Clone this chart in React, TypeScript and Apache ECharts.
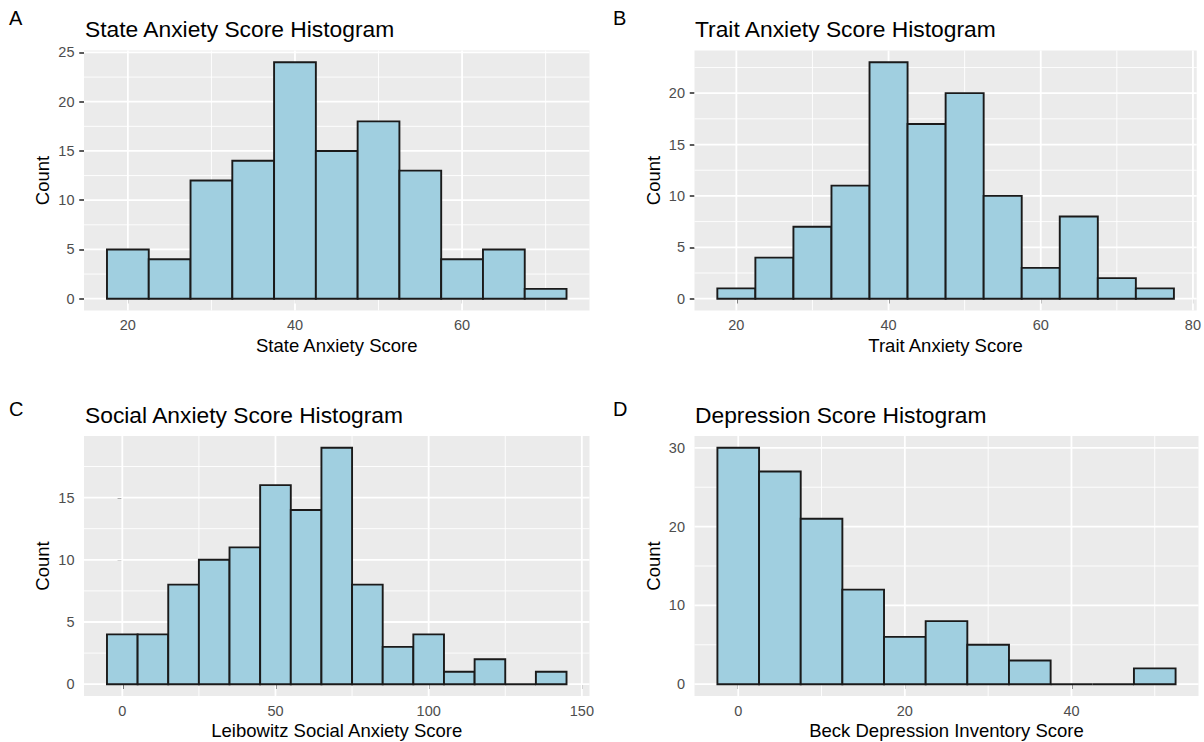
import React, { useEffect, useRef } from "react";
import * as echarts from "echarts";

// ---- data (counts per bin) ----
const stateCounts = [5, 4, 12, 14, 24, 15, 18, 13, 4, 5, 1];
const traitCounts = [1, 4, 7, 11, 23, 17, 20, 10, 3, 8, 2, 1];
const socialCounts = [4, 4, 8, 10, 11, 16, 14, 19, 8, 3, 4, 1, 2, 0, 1];
const depressionCounts = [30, 27, 21, 12, 6, 8, 5, 3, 0, 0, 2];

// bin definitions (first bin edge, bin width)
const stateBinStart = 17.5;
const stateBinWidth = 5;
const traitBinStart = 17.5;
const traitBinWidth = 5;
const socialBinStart = -5;
const socialBinWidth = 10;
const depressionBinStart = -2.5;
const depressionBinWidth = 5;

// tick labels / grid breaks
const stateXTicks = [20, 40, 60];
const stateXMinor = [30, 50, 70];
const stateYTicks = [0, 5, 10, 15, 20, 25];
const stateYMinor = [2.5, 7.5, 12.5, 17.5, 22.5];

const traitXTicks = [20, 40, 60, 80];
const traitXMinor = [30, 50, 70];
const traitYTicks = [0, 5, 10, 15, 20];
const traitYMinor = [2.5, 7.5, 12.5, 17.5, 22.5];

const socialXTicks = [0, 50, 100, 150];
const socialXMinor = [25, 75, 125];
const socialYTicks = [0, 5, 10, 15];
const socialYMinor = [2.5, 7.5, 12.5, 17.5];

const depressionXTicks = [0, 20, 40];
const depressionXMinor = [10, 30, 50];
const depressionYTicks = [0, 10, 20, 30];
const depressionYMinor = [5, 15, 25];

const panelLetters = ["A", "B", "C", "D"];
const titles = [
  "State Anxiety Score Histogram",
  "Trait Anxiety Score Histogram",
  "Social Anxiety Score Histogram",
  "Depression Score Histogram",
];
const xTitles = [
  "State Anxiety Score",
  "Trait Anxiety Score",
  "Leibowitz Social Anxiety Score",
  "Beck Depression Inventory Score",
];
const yTitle = "Count";

// ---- layout / style ----
const FONT = "'Liberation Sans', Arial, Helvetica, sans-serif";
const PANEL_BG = "#EBEBEB";
const BAR_FILL = "#A0CFE0";
const BAR_STROKE = "#1A1A1A";
const TICK_COLOR = "#4D4D4D";

const gridBoxes = [
  { left: 84, top: 50.5, width: 505.5, height: 260 },
  { left: 694.5, top: 50.5, width: 504, height: 260 },
  { left: 84, top: 436, width: 505.5, height: 260 },
  { left: 694.5, top: 436, width: 504, height: 260 },
];
const titlePos = [
  { x: 85, y: 29 },
  { x: 695, y: 29 },
  { x: 85, y: 414.5 },
  { x: 695, y: 414.5 },
];
const letterPos = [
  { x: 9, y: 17.5 },
  { x: 613, y: 17.5 },
  { x: 9, y: 409 },
  { x: 613, y: 409 },
];

type Panel = {
  counts: number[];
  start: number;
  width: number;
  xTicks: number[];
  xMinor: number[];
  yTicks: number[];
  yMinor: number[];
};

const panels: Panel[] = [
  { counts: stateCounts, start: stateBinStart, width: stateBinWidth, xTicks: stateXTicks, xMinor: stateXMinor, yTicks: stateYTicks, yMinor: stateYMinor },
  { counts: traitCounts, start: traitBinStart, width: traitBinWidth, xTicks: traitXTicks, xMinor: traitXMinor, yTicks: traitYTicks, yMinor: traitYMinor },
  { counts: socialCounts, start: socialBinStart, width: socialBinWidth, xTicks: socialXTicks, xMinor: socialXMinor, yTicks: socialYTicks, yMinor: socialYMinor },
  { counts: depressionCounts, start: depressionBinStart, width: depressionBinWidth, xTicks: depressionXTicks, xMinor: depressionXMinor, yTicks: depressionYTicks, yMinor: depressionYMinor },
];

function buildOption() {
  const grid: any[] = [];
  const xAxis: any[] = [];
  const yAxis: any[] = [];
  const series: any[] = [];
  const graphic: any[] = [];

  panels.forEach((p, i) => {
    const lo = p.start;
    const hi = p.start + p.width * p.counts.length;
    const span = hi - lo;
    const xMin = lo - 0.05 * span;
    const xMax = hi + 0.05 * span;
    const cMax = Math.max(...p.counts);
    const yMin = -0.05 * cMax;
    const yMax = cMax * 1.05;

    grid.push({
      ...gridBoxes[i],
      show: true,
      backgroundColor: PANEL_BG,
      borderWidth: 0,
      containLabel: false,
    });

    xAxis.push({
      gridIndex: i,
      type: "value",
      min: xMin,
      max: xMax,
      axisLine: { show: false },
      axisTick: {
        show: true,
        customValues: p.xTicks,
        length: 4.75,
        lineStyle: { color: "#333333", width: 1.6 },
      },
      axisLabel: {
        customValues: p.xTicks,
        margin: 7,
        color: TICK_COLOR,
        fontSize: 14.5,
        fontFamily: FONT,
        hideOverlap: false,
        formatter: (v: number) => String(v),
      },
      splitLine: { show: false },
      name: xTitles[i],
      nameLocation: "middle",
      nameGap: 25,
      nameTextStyle: { color: "#000", fontSize: 18.5, fontFamily: FONT },
    });

    yAxis.push({
      gridIndex: i,
      type: "value",
      min: yMin,
      max: yMax,
      axisLine: { show: false },
      axisTick: {
        show: true,
        customValues: p.yTicks,
        length: 4.75,
        lineStyle: { color: "#333333", width: 1.6 },
      },
      axisLabel: {
        customValues: p.yTicks,
        margin: 9.5,
        color: TICK_COLOR,
        fontSize: 14.5,
        fontFamily: FONT,
        hideOverlap: false,
        formatter: (v: number) => String(v),
      },
      splitLine: { show: false },
      name: yTitle,
      nameLocation: "middle",
      nameGap: 32,
      nameRotate: 90,
      nameTextStyle: { color: "#000", fontSize: 18.5, fontFamily: FONT },
    });

    // all grid lines of a panel drawn as one group, through the panel's scales
    series.push({
      type: "custom",
      xAxisIndex: i,
      yAxisIndex: i,
      silent: true,
      z: 1,
      encode: { x: 0, y: 1 },
      data: [[xMin, yMin]],
      renderItem: (params: any, api: any) => {
        const children: any[] = [];
        const vLine = (v: number, w: number) => {
          const a = api.coord([v, yMin]);
          const b = api.coord([v, yMax]);
          children.push({
            type: "line",
            shape: { x1: a[0], y1: a[1], x2: b[0], y2: b[1] },
            style: { stroke: "#FFFFFF", lineWidth: w },
          });
        };
        const hLine = (v: number, w: number) => {
          const a = api.coord([xMin, v]);
          const b = api.coord([xMax, v]);
          children.push({
            type: "line",
            shape: { x1: a[0], y1: a[1], x2: b[0], y2: b[1] },
            style: { stroke: "#FFFFFF", lineWidth: w },
          });
        };
        p.xMinor.forEach((v) => vLine(v, 0.9));
        p.yMinor.forEach((v) => hLine(v, 0.9));
        p.xTicks.forEach((v) => vLine(v, 1.8));
        p.yTicks.forEach((v) => hLine(v, 1.8));
        return { type: "group", children };
      },
    });

    const barData = p.counts.map((c, k) => [p.start + k * p.width, p.start + (k + 1) * p.width, c]);
    series.push({
      type: "custom",
      xAxisIndex: i,
      yAxisIndex: i,
      z: 2,
      encode: { x: [0, 1], y: 2 },
      data: barData,
      renderItem: (params: any, api: any) => {
        const x0 = api.value(0);
        const x1 = api.value(1);
        const c = api.value(2);
        const a = api.coord([x0, c]);
        const b = api.coord([x1, 0]);
        return {
          type: "rect",
          shape: { x: a[0], y: a[1], width: b[0] - a[0], height: b[1] - a[1] },
          style: { fill: BAR_FILL, stroke: BAR_STROKE, lineWidth: 1.9 },
        };
      },
    });

    graphic.push({
      type: "text",
      x: titlePos[i].x,
      y: titlePos[i].y,
      style: {
        text: titles[i],
        fill: "#000",
        fontSize: 22.8,
        fontFamily: FONT,
        align: "left",
        verticalAlign: "middle",
        textAlign: "left",
        textVerticalAlign: "middle",
      },
    });
    graphic.push({
      type: "text",
      x: letterPos[i].x,
      y: letterPos[i].y,
      style: {
        text: panelLetters[i],
        fill: "#000",
        fontSize: 20,
        fontFamily: FONT,
        align: "left",
        verticalAlign: "middle",
        textAlign: "left",
        textVerticalAlign: "middle",
      },
    });
  });

  return {
    animation: false,
    backgroundColor: "#FFFFFF",
    textStyle: { fontFamily: FONT },
    grid,
    xAxis,
    yAxis,
    series,
    graphic,
  };
}

export default function App() {
  const ref = useRef<HTMLDivElement>(null);
  useEffect(() => {
    if (!ref.current) return;
    const chart = echarts.init(ref.current, undefined, { renderer: "svg" });
    chart.setOption(buildOption() as any);
    return () => chart.dispose();
  }, []);
  return (
    <div
      ref={ref}
      style={{ position: "absolute", left: 0, top: 0, width: 1204, height: 742, background: "#fff" }}
    />
  );
}
